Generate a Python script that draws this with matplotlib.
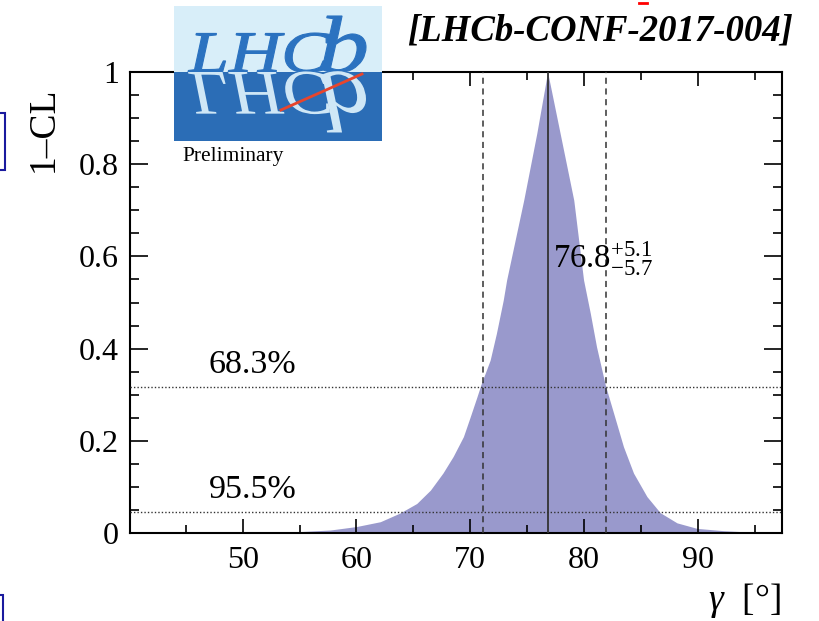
import matplotlib
matplotlib.use("Agg")
import matplotlib.pyplot as plt
from matplotlib.patches import Rectangle, PathPatch
from matplotlib.textpath import TextPath
from matplotlib.font_manager import FontProperties
from matplotlib.transforms import Affine2D
from matplotlib.ticker import MultipleLocator

plt.rcParams['font.family'] = ['Liberation Serif', 'DejaVu Serif']
plt.rcParams['mathtext.fontset'] = 'custom'
plt.rcParams['mathtext.rm'] = 'Liberation Serif'
plt.rcParams['mathtext.it'] = 'Liberation Serif:italic'

# profile likelihood scan for gamma
gamma = [40.0, 45.0, 50.0, 55.0, 57.7, 60.0, 62.1, 63.8, 65.3, 66.5, 67.6,
         68.5, 69.4, 70.0, 70.6, 70.93, 71.75, 72.3, 72.9, 73.2, 74.7, 75.85,
         76.8, 77.9, 79.1, 79.96, 80.55, 81.1, 81.87, 82.6, 83.47, 84.35,
         85.53, 86.7, 88.17, 89.93, 92.27, 95.0, 97.5]
one_minus_cl = [0.0, 0.0005, 0.001, 0.003, 0.0065, 0.014, 0.0245, 0.043,
                0.064, 0.093, 0.13, 0.166, 0.209, 0.252, 0.296, 0.321, 0.375,
                0.433, 0.505, 0.549, 0.722, 0.867, 1.0, 0.867, 0.722, 0.549,
                0.477, 0.404, 0.321, 0.26, 0.187, 0.13, 0.079, 0.044, 0.022,
                0.010, 0.005, 0.0015, 0.0]

central = 76.8
err_up = 5.1
err_down = 5.7
cl_levels = [0.317, 0.045]
cl_labels = ['68.3%', '95.5%']

W, H = 819, 621
fig = plt.figure(figsize=(W / 100, H / 100), dpi=100)

ax = fig.add_axes([130 / W, (H - 533) / H, (782 - 130) / W, (533 - 72) / H])
ax.fill_between(gamma, one_minus_cl, 0, color='#9999cc', lw=0, zorder=1)
ax.set_xlim(40.1, 97.4)
ax.set_ylim(0, 1)

dark = '#333333'
ax.plot([central, central], [0, 1], color=dark, lw=1.3, zorder=3)
for xv in (central - err_down, central + err_up):
    ax.axvline(xv, color=dark, lw=1.1, ls=(0, (4, 3)), zorder=3)
for lev in cl_levels:
    ax.axhline(lev, color=dark, lw=1.0, ls=(0, (1, 1.5)), zorder=3)

ax.text(47.0, cl_levels[0] + 0.015, cl_labels[0], fontsize=24.5, ha='left', va='bottom')
ax.text(47.0, cl_levels[1] + 0.015, cl_labels[1], fontsize=24.5, ha='left', va='bottom')
ax.text(77.3, 0.575,
        r'$\mathrm{%.1f}^{+%.1f}_{-%.1f}$' % (central, err_up, err_down),
        fontsize=23.5, ha='left', va='baseline')

# ROOT-style ticks on all four sides
ax.xaxis.set_minor_locator(MultipleLocator(5))
ax.yaxis.set_minor_locator(MultipleLocator(0.05))
ax.set_xticks([50, 60, 70, 80, 90])
ax.set_yticks([0, 0.2, 0.4, 0.6, 0.8, 1.0])
ax.set_yticklabels(['0', '0.2', '0.4', '0.6', '0.8', '1'])
ax.tick_params(axis='x', which='major', direction='in', length=10, width=1.2,
               top=True, labelsize=23, pad=9)
ax.tick_params(axis='x', which='minor', direction='in', length=5.5, width=1.2, top=True)
ax.tick_params(axis='y', which='major', direction='in', length=13, width=1.2,
               right=True, labelsize=23, pad=8)
ax.tick_params(axis='y', which='minor', direction='in', length=6.5, width=1.2, right=True)
for sp in ax.spines.values():
    sp.set_linewidth(1.5)

# overlay in pixel coordinates for labels and logo
ov = fig.add_axes([0, 0, 1, 1], facecolor='none')
ov.set_xlim(0, W)
ov.set_ylim(H, 0)
ov.axis('off')

ov.text(44, 129, '1\u2013CL', fontsize=27, rotation=90, ha='center', va='center')
ov.text(781, 600, r'$\gamma$  [°]', fontsize=27, ha='right', va='center')

ov.text(600, 31, '[LHCb-CONF-2017-004]', fontsize=26.5, fontweight='bold',
        style='italic', ha='center', va='center')
ov.plot([639, 647], [3, 3], color='red', lw=2)

# LHCb logo
ov.add_patch(Rectangle((174, 6), 208, 66, facecolor='#d8eef9', edgecolor='none', zorder=5))
ov.add_patch(Rectangle((174, 72), 208, 69, facecolor='#2b6db6', edgecolor='none', zorder=5))
logo_font = FontProperties(family='Liberation Serif', style='italic')


def logo_glyphs(s, x0, x1, top, base, face, mirror_face):
    path = TextPath((0, 0), s, size=100, prop=logo_font)
    bb = path.get_extents()
    sx = (x1 - x0) / bb.width
    sy = (base - top) / bb.y1
    up = Affine2D().translate(-bb.x0, 0).scale(sx, -sy).translate(x0, base)
    down = Affine2D().translate(-bb.x0, 0).scale(sx, sy * 1.08).translate(x0, base)
    ov.add_patch(PathPatch(up.transform_path(path), facecolor=face,
                           edgecolor=face, lw=0.8, zorder=6))
    ov.add_patch(PathPatch(down.transform_path(path), facecolor=mirror_face,
                           edgecolor='none', zorder=6))


logo_glyphs('LHC', 188, 330, 33, 72, '#2b72c0', '#cfe7f6')
logo_glyphs('b', 322, 366, 16, 72, '#2b72c0', '#cfe7f6')
ov.plot([281, 362], [110, 74], color='#e8452c', lw=2, zorder=7)
ov.text(182, 157, 'Preliminary', fontsize=15.5, ha='left', va='center')

# slide frame pieces at the left edge
ov.add_patch(Rectangle((-10, 113), 15, 57, facecolor='none', edgecolor='#1a1a9e', lw=1.5))
ov.add_patch(Rectangle((-10, 595), 13, 40, facecolor='none', edgecolor='#1a1a9e', lw=1.5))

fig.savefig('out.png', dpi=100)
